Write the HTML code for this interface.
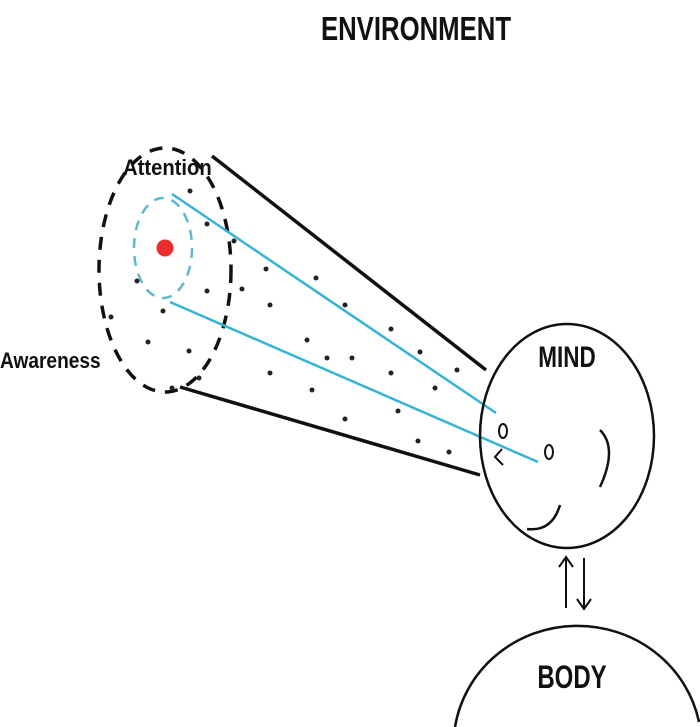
<!DOCTYPE html>
<html><head><style>
html,body{margin:0;padding:0;background:#fff;width:700px;height:727px;overflow:hidden;}
svg{display:block;}
text{font-family:"Liberation Sans Narrow","Liberation Sans",sans-serif;fill:#111;}
</style></head><body>
<svg width="700" height="727" viewBox="0 0 700 727" xmlns="http://www.w3.org/2000/svg">
<rect width="700" height="727" fill="#fff"/>
<text x="416" y="40" font-size="33" font-weight="bold" text-anchor="middle" transform="translate(416 0) scale(0.78 1) translate(-416 0)">ENVIRONMENT</text>
<ellipse cx="165" cy="270" rx="66" ry="122" fill="none" stroke="#111" stroke-width="3.5" stroke-dasharray="13 10"/>
<ellipse cx="163" cy="248" rx="29" ry="50" fill="none" stroke="#5fb8d0" stroke-width="2.5" stroke-dasharray="10 8"/>
<circle cx="165" cy="248" r="8.5" fill="#ee2a2a"/>
<line x1="212" y1="156" x2="486" y2="370" stroke="#111" stroke-width="3.5"/>
<line x1="180" y1="387" x2="480" y2="475" stroke="#111" stroke-width="3.5"/>
<line x1="172" y1="194" x2="496" y2="413" stroke="#35b4d6" stroke-width="2.5"/>
<line x1="170" y1="302" x2="538" y2="462" stroke="#35b4d6" stroke-width="2.5"/>
<g fill="#222">
<circle cx="190" cy="191" r="2.5"/><circle cx="207" cy="224" r="2.5"/><circle cx="234" cy="241" r="2.5"/>
<circle cx="266" cy="269" r="2.5"/><circle cx="316" cy="278" r="2.5"/><circle cx="207" cy="291" r="2.5"/>
<circle cx="242" cy="289" r="2.5"/><circle cx="137" cy="281" r="2.5"/><circle cx="163" cy="311" r="2.5"/>
<circle cx="111" cy="317" r="2.5"/><circle cx="148" cy="342" r="2.5"/><circle cx="189" cy="351" r="2.5"/>
<circle cx="199" cy="378" r="2.5"/><circle cx="172" cy="388" r="2.5"/><circle cx="270" cy="305" r="2.5"/>
<circle cx="270" cy="373" r="2.5"/><circle cx="345" cy="305" r="2.5"/><circle cx="391" cy="329" r="2.5"/>
<circle cx="307" cy="340" r="2.5"/><circle cx="327" cy="358" r="2.5"/><circle cx="352" cy="358" r="2.5"/>
<circle cx="420" cy="352" r="2.5"/><circle cx="457" cy="370" r="2.5"/><circle cx="391" cy="373" r="2.5"/>
<circle cx="312" cy="390" r="2.5"/><circle cx="435" cy="388" r="2.5"/><circle cx="398" cy="411" r="2.5"/>
<circle cx="345" cy="419" r="2.5"/><circle cx="418" cy="441" r="2.5"/><circle cx="449" cy="452" r="2.5"/>
</g>
<text x="123" y="175" font-size="22" font-weight="bold" transform="translate(123 0) scale(0.92 1) translate(-123 0)">Attention</text>
<text x="0" y="368" font-size="22" font-weight="bold" transform="scale(0.87 1)">Awareness</text>
<ellipse cx="567" cy="436" rx="87" ry="112" fill="none" stroke="#111" stroke-width="2.5"/>
<text x="567" y="367" font-size="30" font-weight="bold" text-anchor="middle" transform="translate(567 0) scale(0.75 1) translate(-567 0)">MIND</text>
<ellipse cx="503" cy="431" rx="4" ry="7" fill="none" stroke="#111" stroke-width="2"/>
<ellipse cx="549" cy="452" rx="4" ry="7" fill="none" stroke="#111" stroke-width="2"/>
<path d="M502 449 L495 457 L503 465" fill="none" stroke="#111" stroke-width="2"/>
<path d="M600 430 Q618 448 600 487" fill="none" stroke="#111" stroke-width="2.5"/>
<path d="M527 529 Q552 532 560 505" fill="none" stroke="#111" stroke-width="2.5"/>
<path d="M566 608 L566 558 M559 567 L566 557 L573 567" fill="none" stroke="#111" stroke-width="2"/>
<path d="M584 558 L584 608 M577 599 L584 609 L591 599" fill="none" stroke="#111" stroke-width="2"/>
<path d="M455 727 A124 120 0 0 1 699 722" fill="none" stroke="#111" stroke-width="2.5"/>
<text x="572" y="688" font-size="32" font-weight="bold" text-anchor="middle" transform="translate(572 0) scale(0.75 1) translate(-572 0)">BODY</text>
</svg>
</body></html>
